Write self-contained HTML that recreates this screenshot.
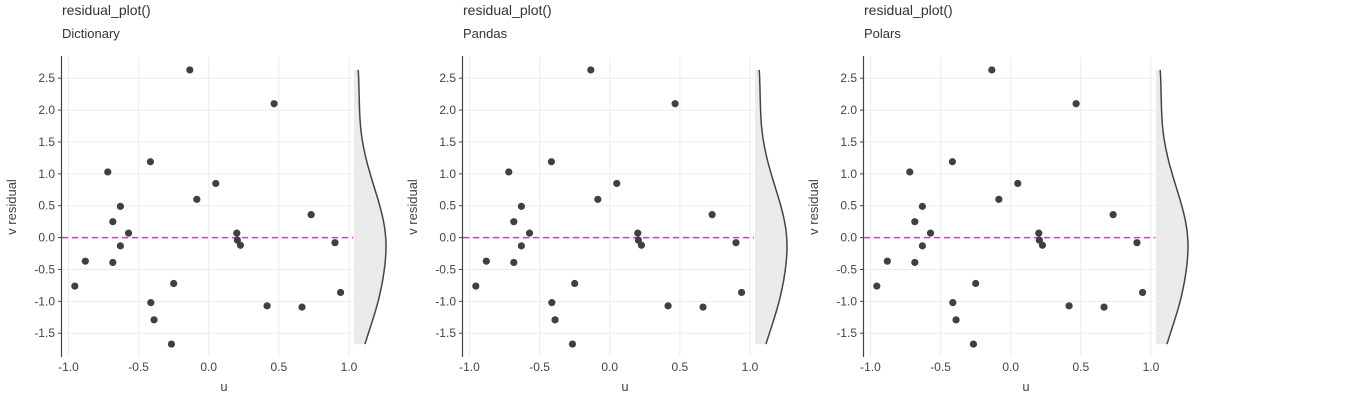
<!DOCTYPE html>
<html><head><meta charset="utf-8">
<style>
html,body{margin:0;padding:0;background:#fff;}
svg{display:block;font-family:"Liberation Sans",Arial,sans-serif;}
</style></head>
<body>
<svg id="chart" width="1361" height="400" viewBox="0 0 1361 400" xmlns="http://www.w3.org/2000/svg"></svg>
<script>
const panelTitles = ["Dictionary", "Pandas", "Polars"];
const uValues = [-0.955,-0.88,-0.72,-0.684,-0.684,-0.63,-0.63,-0.572,-0.416,-0.413,-0.39,-0.266,-0.25,-0.135,-0.085,0.05,0.20,0.204,0.226,0.416,0.466,0.665,0.73,0.90,0.94];
const vValues = [-0.76,-0.37,1.03,0.25,-0.39,0.49,-0.13,0.07,1.19,-1.02,-1.29,-1.67,-0.72,2.63,0.60,0.85,0.07,-0.04,-0.12,-1.07,2.10,-1.09,0.36,-0.08,-0.86];
const xTicks = [-1.0,-0.5,0.0,0.5,1.0];
const yTicks = [-1.5,-1.0,-0.5,0.0,0.5,1.0,1.5,2.0,2.5];

const NS = "http://www.w3.org/2000/svg";
const svg = document.getElementById("chart");
function mk(tag, attrs, parent){
  const e = document.createElementNS(NS, tag);
  for (const k in attrs) e.setAttribute(k, attrs[k]);
  (parent||svg).appendChild(e);
  return e;
}
const xScale = (u, off) => off + 68.5 + (u + 1) * 140.25;
const yScale = v => 237.6 - v * 63.75;

const n = vValues.length;
const mean = vValues.reduce((a,b)=>a+b,0)/n;
const sd = Math.sqrt(vValues.reduce((a,b)=>a+(b-mean)*(b-mean),0)/(n-1));
const bw = sd * Math.pow(n, -0.2);
const vmin = Math.min(...vValues), vmax = Math.max(...vValues);
function kde(v){ let s=0; for (const d of vValues){ const z=(v-d)/bw; s+=Math.exp(-0.5*z*z);} return s; }
const dens = []; let dmax = 0;
for (let i=0;i<=120;i++){ const v = vmin + (vmax-vmin)*i/120; const d = kde(v); dens.push([v,d]); if(d>dmax) dmax=d; }

panelTitles.forEach((name, p) => {
  const off = p * 401;
  const g = mk("g", {});
  
  

  const t1 = mk("text", {x: off+62, y: 15, "font-size": 14, fill: "#333"}, g);
  t1.textContent = "residual_plot()";
  
  
  const t2 = mk("text", {x: off+62, y: 38, "font-size": 13, fill: "#333"}, g);
  t2.textContent = name;
  
  

  yTicks.forEach(v => {
    const l = mk("line", {x1: off+62, x2: off+353, y1: yScale(v), y2: yScale(v), stroke: "#ebebeb", "stroke-width": 1}, g);
    
    
    const tk = mk("line", {x1: off+58, x2: off+61.5, y1: yScale(v), y2: yScale(v), stroke: "#444", "stroke-width": 1}, g);
    
    
    const tl = mk("text", {x: off+55, y: yScale(v)+4, "font-size": 12, fill: "#444", "text-anchor": "end"}, g);
    tl.textContent = v.toFixed(1);
    
    
  });
  xTicks.forEach(u => {
    const l = mk("line", {x1: xScale(u,off), x2: xScale(u,off), y1: 57, y2: 356, stroke: "#ebebeb", "stroke-width": 1}, g);
    
    
    const tl = mk("text", {x: xScale(u,off), y: 371, "font-size": 12, fill: "#444", "text-anchor": "middle"}, g);
    tl.textContent = u.toFixed(1);
    
    
  });

  const ax = mk("line", {x1: off+61.5, x2: off+61.5, y1: 56, y2: 357, stroke: "#444", "stroke-width": 1.2}, g);
  
  

  const xt = mk("text", {x: off+224, y: 391, "font-size": 13, fill: "#444", "text-anchor": "middle"}, g);
  xt.textContent = "u";
  
  
  const yt = mk("text", {x: 0, y: 0, "font-size": 13, fill: "#444", "text-anchor": "middle", transform: `translate(${off+16},${207}) rotate(-90)`}, g);
  yt.textContent = "v residual";
  
  

  const zl = mk("line", {x1: off+62, x2: off+353, y1: yScale(0), y2: yScale(0), stroke: "#ee22ee", "stroke-width": 1.5, "stroke-dasharray": "6,4"}, g);
  
  

  const base = off + 354;
  const pts = dens.map(([v,d]) => [base + d/dmax*32, yScale(v)]);
  let area = `M${base},${yScale(vmin)} ` + pts.map(q => `L${q[0].toFixed(1)},${q[1].toFixed(1)}`).join(" ") + ` L${base},${yScale(vmax)} Z`;
  const da = mk("path", {d: area, fill: "#ebebeb", stroke: "none"}, g);
  
  
  const dl = mk("path", {d: "M" + pts.map(q => `${q[0].toFixed(1)},${q[1].toFixed(1)}`).join(" L"), fill: "none", stroke: "#444", "stroke-width": 1.5}, g);
  
  

  uValues.forEach((u, i) => {
    const c = mk("circle", {cx: xScale(u,off), cy: yScale(vValues[i]), r: 3.6, fill: "#404040"}, g);
    
    
  });
});
</script>
</body></html>
